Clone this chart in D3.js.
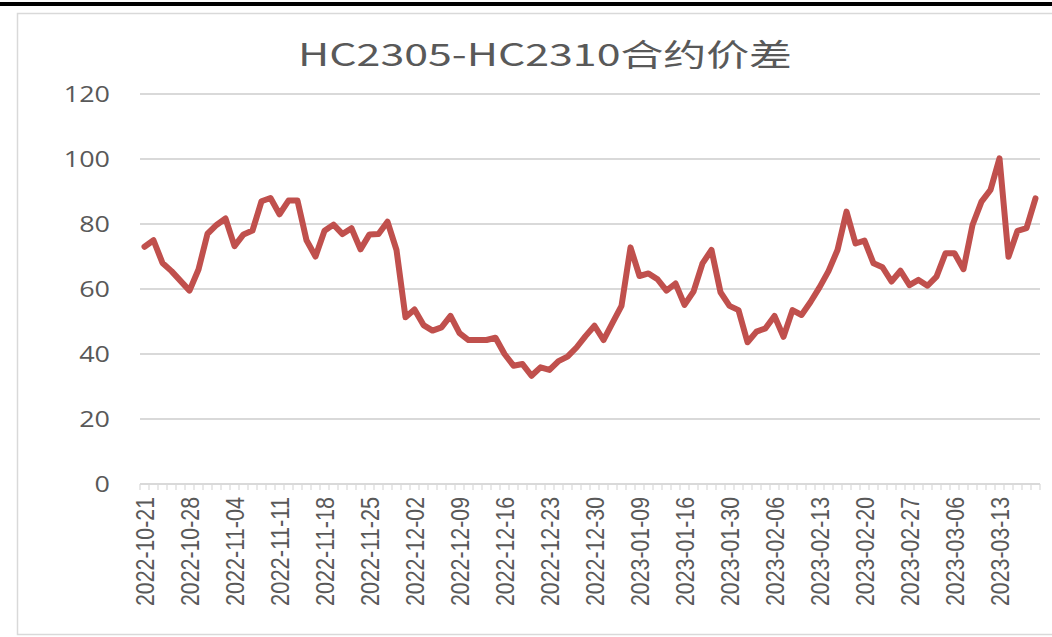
<!DOCTYPE html>
<html>
<head>
<meta charset="utf-8">
<script src="https://cdn.jsdelivr.net/npm/d3@7"></script>
<style>
  html, body { margin: 0; padding: 0; background: #ffffff; }
  svg { display: block; }
</style>
</head>
<body>
<div id="chart"></div>
<script>
const titleText = "HC2305-HC2310合约价差";

const dates = [
"2022-10-21","2022-10-24","2022-10-25","2022-10-26","2022-10-27","2022-10-28",
"2022-10-31","2022-11-01","2022-11-02","2022-11-03","2022-11-04",
"2022-11-07","2022-11-08","2022-11-09","2022-11-10","2022-11-11",
"2022-11-14","2022-11-15","2022-11-16","2022-11-17","2022-11-18",
"2022-11-21","2022-11-22","2022-11-23","2022-11-24","2022-11-25",
"2022-11-28","2022-11-29","2022-11-30","2022-12-01","2022-12-02",
"2022-12-05","2022-12-06","2022-12-07","2022-12-08","2022-12-09",
"2022-12-12","2022-12-13","2022-12-14","2022-12-15","2022-12-16",
"2022-12-19","2022-12-20","2022-12-21","2022-12-22","2022-12-23",
"2022-12-26","2022-12-27","2022-12-28","2022-12-29","2022-12-30",
"2023-01-03","2023-01-04","2023-01-05","2023-01-06","2023-01-09",
"2023-01-10","2023-01-11","2023-01-12","2023-01-13","2023-01-16",
"2023-01-17","2023-01-18","2023-01-19","2023-01-20","2023-01-30",
"2023-01-31","2023-02-01","2023-02-02","2023-02-03","2023-02-06",
"2023-02-07","2023-02-08","2023-02-09","2023-02-10","2023-02-13",
"2023-02-14","2023-02-15","2023-02-16","2023-02-17","2023-02-20",
"2023-02-21","2023-02-22","2023-02-23","2023-02-24","2023-02-27",
"2023-02-28","2023-03-01","2023-03-02","2023-03-03","2023-03-06",
"2023-03-07","2023-03-08","2023-03-09","2023-03-10","2023-03-13",
"2023-03-14","2023-03-15","2023-03-16","2023-03-17"
];

const spread = [
73, 75, 68, 65.5, 62.5, 59.5,
66, 77, 79.7, 81.7, 73.2,
76.8, 78, 87, 88, 83,
87.2, 87.2, 75, 70, 77.9,
79.8, 76.9, 78.7, 72.2, 76.8,
76.9, 80.7, 72, 51.3, 53.7,
48.9, 47.2, 48.2, 51.7, 46.4,
44.3, 44.3, 44.3, 45, 40,
36.4, 36.9, 33.3, 35.9, 35.1,
37.8, 39.2, 42, 45.5, 48.7,
44.3, 49.6, 54.8, 72.8, 64,
64.8, 63, 59.5, 61.7, 55.1,
59.2, 67.9, 72, 59, 54.8,
53.5, 43.6, 46.9, 47.9, 51.7,
45.3, 53.5, 52, 56, 60.5,
65.5, 72, 83.8, 74, 74.9,
67.9, 66.7, 62.3, 65.6, 61.2,
62.8, 61, 63.8, 71, 71,
66.1, 79.7, 86.9, 90.5, 100.2,
69.9, 77.9, 78.7, 87.9
];

const yTicks = [0, 20, 40, 60, 80, 100, 120];
const labelEvery = 5;

const W = 1052, H = 637;
const svg = d3.select("#chart").append("svg")
  .attr("width", W).attr("height", H);

// top black rule
svg.append("rect").attr("x", 0).attr("y", 2).attr("width", W).attr("height", 4).attr("fill", "#000");
// chart frame
svg.append("rect").attr("x", 17.5).attr("y", 13.5).attr("width", W + 10).attr("height", 621)
  .attr("fill", "#fff").attr("stroke", "#d9d9d9").attr("stroke-width", 1.5);

const x = d3.scaleBand().domain(dates).range([140, 1040]).padding(0);
const y = d3.scaleLinear().domain([0, 120]).range([484, 94]);

// title
svg.append("text")
  .attr("x", 545).attr("y", 66)
  .attr("text-anchor", "middle")
  .attr("font-family", "'Liberation Sans Narrow','Noto Sans CJK SC',sans-serif")
  .attr("font-size", 31)
  .attr("fill", "#595959")
  .attr("textLength", 494)
  .attr("lengthAdjust", "spacingAndGlyphs")
  .text(titleText);

// gridlines
svg.append("g").selectAll("line")
  .data(yTicks.filter(d => d > 0))
  .join("line")
  .attr("x1", 140).attr("x2", 1040)
  .attr("y1", d => y(d)).attr("y2", d => y(d))
  .attr("stroke", "#d9d9d9").attr("stroke-width", 2);

// y labels
svg.append("g").selectAll("text")
  .data(yTicks)
  .join("text")
  .attr("x", 110).attr("y", d => y(d))
  .attr("dy", "0.36em")
  .attr("text-anchor", "end")
  .attr("font-family", "'Open Sans',sans-serif")
  .attr("font-size", 21)
  .attr("fill", "#595959")
  .attr("textLength", d => String(d).length * 15.4)
  .attr("lengthAdjust", "spacingAndGlyphs")
  .text(d => d);

// x axis line and ticks
const axisG = svg.append("g");
axisG.append("line")
  .attr("x1", x.range()[0]).attr("x2", x.range()[1])
  .attr("y1", y(0)).attr("y2", y(0))
  .attr("stroke", "#d9d9d9").attr("stroke-width", 2);
const tickPos = dates.map(d => x(d)).concat([x.range()[1]]);
axisG.selectAll("line.tick")
  .data(tickPos)
  .join("line").attr("class", "tick")
  .attr("x1", d => d).attr("x2", d => d)
  .attr("y1", y(0)).attr("y2", y(0) + 6)
  .attr("stroke", "#d9d9d9").attr("stroke-width", 1.2);

// x labels
svg.append("g").selectAll("text")
  .data(dates.filter((d, i) => i % labelEvery === 0))
  .join("text")
  .attr("transform", d => `translate(${x(d) + x.bandwidth() / 2},497) rotate(-90)`)
  .attr("dy", "0.37em")
  .attr("text-anchor", "end")
  .attr("font-family", "'Liberation Sans Narrow','Liberation Sans',sans-serif")
  .attr("font-size", 26)
  .attr("fill", "#595959")
  .attr("textLength", 109)
  .attr("lengthAdjust", "spacingAndGlyphs")
  .text(d => d);

// line
const line = d3.line()
  .x((d, i) => x(dates[i]) + x.bandwidth() / 2)
  .y(d => y(d));
svg.append("path")
  .datum(spread)
  .attr("d", line)
  .attr("fill", "none")
  .attr("stroke", "#C0504D")
  .attr("stroke-width", 6)
  .attr("stroke-linejoin", "round")
  .attr("stroke-linecap", "round");
</script>
</body>
</html>
